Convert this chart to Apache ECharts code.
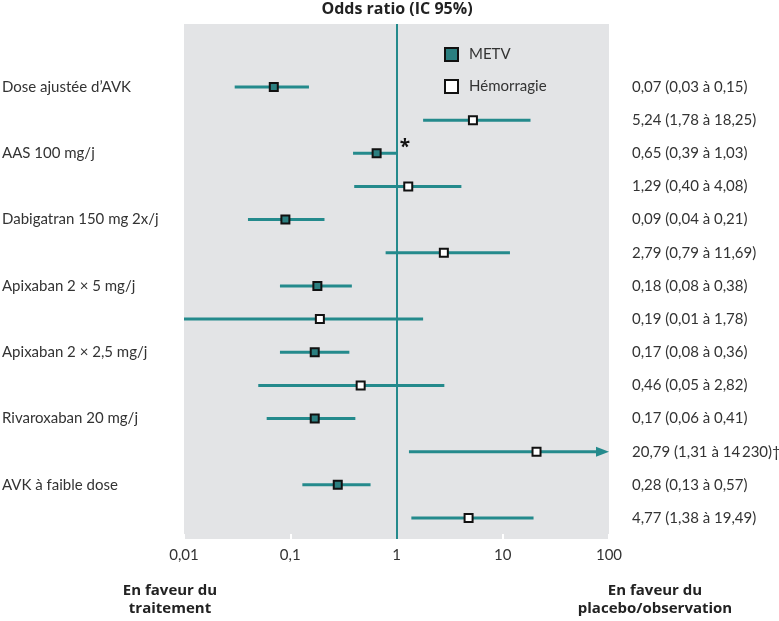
<!DOCTYPE html>
<html>
<head>
<meta charset="utf-8">
<script src="https://cdn.jsdelivr.net/npm/echarts@6/dist/echarts.min.js"></script>
<style>
html,body{margin:0;padding:0;background:#fff;}
#chart{width:779px;height:621px;}
</style>
</head>
<body>
<div id="chart"></div>
<script>
// Rows (top to bottom): METV / Hémorragie pairs per treatment
const treatments = ["Dose ajustée d\u2019AVK", "AAS 100 mg/j", "Dabigatran 150 mg 2x/j", "Apixaban 2 \u00d7 5 mg/j", "Apixaban 2 \u00d7 2,5 mg/j", "Rivaroxaban 20 mg/j", "AVK \u00e0 faible dose"];
const outcomes = ["METV", "H\u00e9morragie"];
const estimates = [0.07, 5.24, 0.65, 1.29, 0.09, 2.79, 0.18, 0.19, 0.17, 0.46, 0.17, 20.79, 0.28, 4.77];
const lowers    = [0.03, 1.78, 0.39, 0.40, 0.04, 0.79, 0.08, 0.01, 0.08, 0.05, 0.06, 1.31, 0.13, 1.38];
const uppers    = [0.15, 18.25, 1.03, 4.08, 0.21, 11.69, 0.38, 1.78, 0.36, 2.82, 0.41, 14230, 0.57, 19.49];
const notes     = ["", "", "*", "", "", "", "", "", "", "", "", "", "", ""];
const rightLabels = [
  "0,07 (0,03 \u00e0 0,15)", "5,24 (1,78 \u00e0 18,25)", "0,65 (0,39 \u00e0 1,03)", "1,29 (0,40 \u00e0 4,08)",
  "0,09 (0,04 \u00e0 0,21)", "2,79 (0,79 \u00e0 11,69)", "0,18 (0,08 \u00e0 0,38)", "0,19 (0,01 \u00e0 1,78)",
  "0,17 (0,08 \u00e0 0,36)", "0,46 (0,05 \u00e0 2,82)", "0,17 (0,06 \u00e0 0,41)", "20,79 (1,31 \u00e0 14\u2009230)\u2020",
  "0,28 (0,13 \u00e0 0,57)", "4,77 (1,38 \u00e0 19,49)"
];
const xTicks = [0.01, 0.1, 1, 10, 100];
const xTickLabels = ["0,01", "0,1", "1", "10", "100"];

const TEAL = "#248a8c";
const FILL = "#2b7f80";
const FONT = "Lato";
const BOLDFONT = "Open Sans";
const xMin = xTicks[0], xMax = xTicks[xTicks.length - 1];

const rows = estimates.map((_, i) => i);
const ciData = rows.map(i => [lowers[i], uppers[i], i]);
const metvData = rows.filter(i => i % 2 === 0).map(i => [estimates[i], i]);
const hemData = rows.filter(i => i % 2 === 1).map(i => [estimates[i], i]);

const chart = echarts.init(document.getElementById('chart'));
const yCommon = {
  type: 'value', min: -1.9, max: 13.633, inverse: true,
  axisLine: {show: false}, axisTick: {show: false}, splitLine: {show: false}
};
const boldStyle = {fontFamily: BOLDFONT, fontWeight: 'bold', fontSize: 15, lineHeight: 18, color: '#222', align: 'center'};
chart.setOption({
  animation: false,
  textStyle: {fontFamily: FONT},
  title: [
    {text: "Odds ratio (IC 95%)", left: 397, top: 0, padding: 0, textAlign: 'center', textStyle: Object.assign({}, boldStyle, {fontSize: 16})},
    {text: "En faveur du\ntraitement", left: 165, top: 577, textAlign: 'center', textStyle: boldStyle},
    {text: "En faveur du\nplacebo/observation", left: 650, top: 577, textAlign: 'center', textStyle: boldStyle}
  ],
  legend: {
    data: outcomes, orient: 'vertical', left: 439, top: 42,
    itemWidth: 13, itemHeight: 13, itemGap: 17,
    textStyle: {fontFamily: FONT, fontSize: 15, color: '#333', padding: [0, 0, 0, 6]},
    itemStyle: {borderColor: '#111', borderWidth: 2}
  },
  grid: {left: 184, right: 170, top: 24, bottom: 82, show: true, backgroundColor: '#e3e4e6', borderWidth: 0,
         containLabel: false, outerBoundsMode: 'none'},
  xAxis: {
    type: 'log', logBase: 10, min: xMin, max: xMax,
    axisLine: {show: false, onZero: false},
    axisTick: {show: true, inside: true, length: 5, lineStyle: {color: '#ffffff', width: 2}},
    minorTick: {show: false},
    splitLine: {show: false},
    axisLabel: {
      margin: 9, fontSize: 15, color: '#333', fontFamily: FONT,
      formatter: v => { const k = xTicks.findIndex(t => Math.abs(t - v) / t < 1e-6); return k >= 0 ? xTickLabels[k] : ''; }
    }
  },
  yAxis: [
    Object.assign({}, yCommon, {
      position: 'left',
      axisLabel: {
        customValues: rows.filter(i => i % 2 === 0), align: 'left', margin: 182,
        fontSize: 15, color: '#333', fontFamily: FONT,
        formatter: v => treatments[Math.round(v) / 2] || ''
      }
    }),
    Object.assign({}, yCommon, {
      position: 'right',
      axisLabel: {
        customValues: rows, align: 'left', margin: 23,
        fontSize: 15, color: '#333', fontFamily: FONT,
        formatter: v => rightLabels[Math.round(v)] || ''
      }
    })
  ],
  series: [
    {
      type: 'custom', name: 'CI', z: 2, clip: false,
      encode: {x: [0, 1], y: 2},
      data: ciData,
      renderItem: (params, api) => {
        const lo = api.value(0), hi = api.value(1), row = api.value(2);
        const note = notes[row];
        const clipped = hi > xMax;
        const p1 = api.coord([lo, row]);
        const pe = api.coord([clipped ? xMax : hi, row]);
        const children = [];
        const arrowLen = 13, arrowHalf = 5;
        const endX = clipped ? pe[0] - arrowLen + 1 : pe[0];
        children.push({type: 'line', shape: {x1: p1[0], y1: p1[1], x2: endX, y2: pe[1]},
          style: {stroke: TEAL, lineWidth: 3}});
        if (clipped) {
          children.push({type: 'polygon', shape: {points: [[pe[0] - arrowLen, pe[1] - arrowHalf], [pe[0], pe[1]], [pe[0] - arrowLen, pe[1] + arrowHalf]]},
            style: {fill: TEAL}});
        }
        if (note) {
          children.push({type: 'text', x: pe[0] + 7, y: pe[1] - 6,
            style: {text: note, fill: '#111', font: 'bold 19px ' + BOLDFONT, align: 'center', verticalAlign: 'middle'}});
        }
        return {type: 'group', children};
      },
      markLine: {
        silent: true, symbol: 'none', label: {show: false},
        lineStyle: {color: TEAL, width: 2, type: 'solid'},
        data: [{xAxis: 1}]
      }
    },
    {
      type: 'scatter', name: outcomes[0], z: 3, symbol: 'rect', symbolSize: 8,
      itemStyle: {color: FILL, borderColor: '#111', borderWidth: 2, opacity: 1},
      data: metvData
    },
    {
      type: 'scatter', name: outcomes[1], z: 3, symbol: 'rect', symbolSize: 8,
      itemStyle: {color: '#ffffff', borderColor: '#111', borderWidth: 2, opacity: 1},
      data: hemData
    }
  ]
});
</script>
</body>
</html>
